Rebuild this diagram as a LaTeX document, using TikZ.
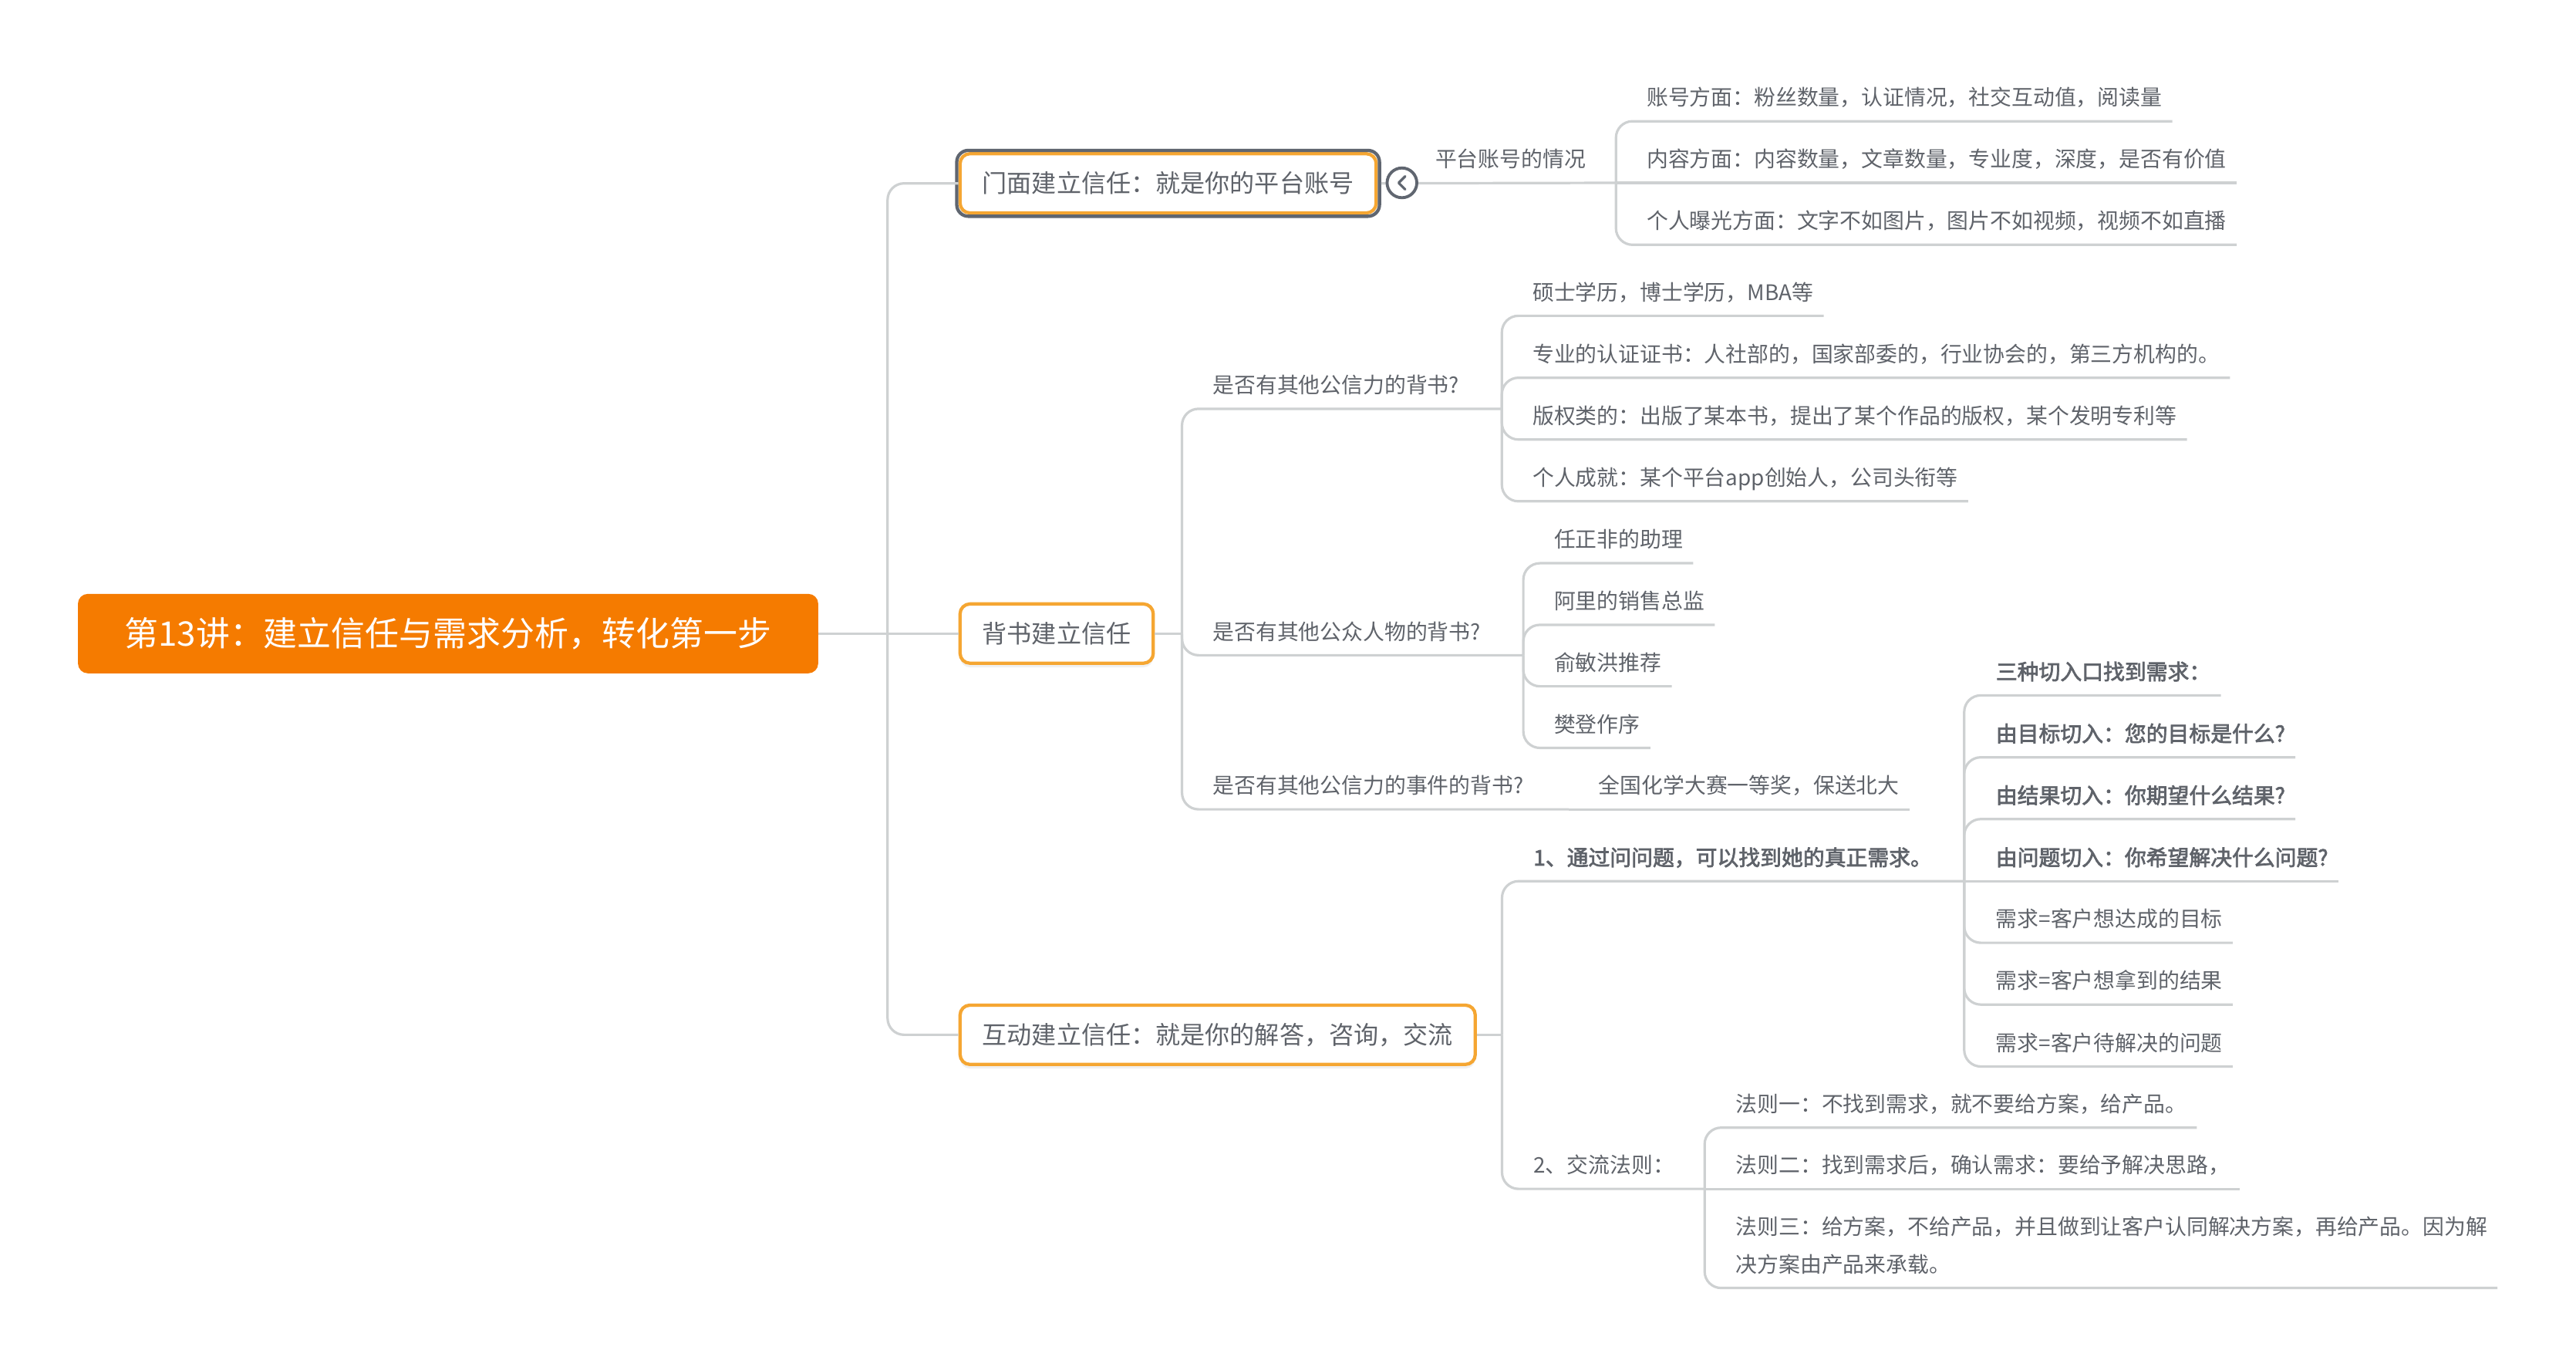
\documentclass[tikz,border=0pt]{standalone}
\usepackage{fontspec}
\setmainfont{Noto Sans CJK SC}
\newfontfamily\boldcjk[FakeBold=2.6]{Noto Sans CJK SC}
\usetikzlibrary{shadows}
\definecolor{rootorange}{RGB}{245,123,0}
\definecolor{boxorange}{RGB}{245,166,50}
\definecolor{selgray}{RGB}{96,102,112}
\definecolor{linkgray}{RGB}{206,209,210}
\definecolor{txtgray}{RGB}{95,99,106}
\begin{document}
\begin{tikzpicture}[x=1pt,y=-1pt,
  link/.style={draw=linkgray,line width=1.5pt,rounded corners=10pt},
  root/.style={fill=rootorange,rounded corners=6pt,minimum width=448.3pt,minimum height=48.1pt,inner sep=0pt,text=white,font=\fontsize{20.5}{24}\selectfont},
  topic/.style={draw=boxorange,line width=2pt,fill=white,rounded corners=6pt,anchor=west,minimum height=35.9pt,inner xsep=13.5pt,inner ysep=0pt,text=txtgray,font=\fontsize{15}{18}\selectfont,drop shadow={shadow xshift=0pt,shadow yshift=-2.5pt,opacity=0.12}},
  leaf/.style={anchor=south west,inner sep=0pt,text depth=9.3pt,text=txtgray,font=\fontsize{13}{22.6}\selectfont},
  bold/.style={font=\fontsize{13}{22.6}\selectfont\boldcjk}]
 \path[use as bounding box] (0,0) rectangle (1560,827.6);
 \node [root] (root) at (271.35,383.6) {第13讲：建立信任与需求分析，转化第一步};
 \node [topic] (b1) at (580.4,111) {门面建立信任：就是你的平台账号};
 \node [topic] (b2) at (580.4,383.6) {背书建立信任};
 \node [topic] (b3) at (580.4,626.5) {互动建立信任：就是你的解答，咨询，交流};
 \draw [selgray,line width=2pt,rounded corners=7pt] ([shift={(-1pt,1pt)}]b1.north west) rectangle ([shift={(1pt,-1pt)}]b1.south east);
 \coordinate (t) at (537.5,383.6);
 \coordinate (c1) at (978.6,110.7);
 \coordinate (c2) at (715.8,383.6);
 \coordinate (c21) at (909.5,247.5);
 \coordinate (c22) at (922.5,396.7);
 \coordinate (c23) at (950,490);
 \coordinate (c3) at (909.6,626.5);
 \coordinate (c31) at (1189.5,533.5);
 \coordinate (c32) at (1032.3,719.8);
 \node [leaf] (p1) at (869,110.7) {平台账号的情况};
 \node [leaf] (a1) at (997.1,73.4) {账号方面：粉丝数量，认证情况，社交互动值，阅读量};
 \node [leaf] (a2) at (997.1,110.7) {内容方面：内容数量，文章数量，专业度，深度，是否有价值};
 \node [leaf] (a3) at (997.1,148.2) {个人曝光方面：文字不如图片，图片不如视频，视频不如直播};
 \node [leaf] (q1) at (734.3,247.5) {是否有其他公信力的背书?};
 \node [leaf] (q11) at (928,191.2) {硕士学历，博士学历，MBA等};
 \node [leaf] (q12) at (928,228.7) {专业的认证证书：人社部的，国家部委的，行业协会的，第三方机构的。};
 \node [leaf] (q13) at (928,266.1) {版权类的：出版了某本书，提出了某个作品的版权，某个发明专利等};
 \node [leaf] (q14) at (928,303.5) {个人成就：某个平台app创始人，公司头衔等};
 \node [leaf] (q2) at (734.3,396.7) {是否有其他公众人物的背书?};
 \node [leaf] (q21) at (941,341) {任正非的助理};
 \node [leaf] (q22) at (941,378.3) {阿里的销售总监};
 \node [leaf] (q23) at (941,415.5) {俞敏洪推荐};
 \node [leaf] (q24) at (941,452.8) {樊登作序};
 \node [leaf] (q3) at (734.3,490) {是否有其他公信力的事件的背书?};
 \node [leaf] (q31) at (968,490) {全国化学大赛一等奖，保送北大};
 \node [leaf,bold] (r1) at (928.5,533.5) {1、通过问问题，可以找到她的真正需求。};
 \node [leaf,bold] (r11) at (1208.5,421) {三种切入口找到需求：};
 \node [leaf,bold] (r12) at (1208.5,458.5) {由目标切入：您的目标是什么?};
 \node [leaf,bold] (r13) at (1208.5,495.9) {由结果切入：你期望什么结果?};
 \node [leaf,bold] (r14) at (1208.5,533.5) {由问题切入：你希望解决什么问题?};
 \node [leaf] (r15) at (1208.5,570.8) {需求=客户想达成的目标};
 \node [leaf] (r16) at (1208.5,608.2) {需求=客户想拿到的结果};
 \node [leaf] (r17) at (1208.5,645.7) {需求=客户待解决的问题};
 \node [leaf] (r2) at (928.5,719.8) {2、交流法则：};
 \node [leaf] (r21) at (1051,682.7) {法则一：不找到需求，就不要给方案，给产品。};
 \node [leaf] (r22) at (1051,719.8) {法则二：找到需求后，确认需求：要给予解决思路，};
 \node [leaf,align=left] (r23) at (1051,779.8) {法则三：给方案，不给产品，并且做到让客户认同解决方案，再给产品。因为解\\决方案由产品来承载。};
 \draw [link] (root.east) -- (b2.west);
 \draw [link] (t) |- (b1.west);
 \draw [link] (t) |- (b3.west);
 \draw [link] ([xshift=2pt]b1.east) -- (c1);
 \draw [link] (c1) |- ([xshift=6pt]a1.south east);
 \draw [link] (c1) -- ([xshift=6pt]a2.south east);
 \draw [link] (c1) |- ([xshift=6pt]a3.south east);
 \draw [link] (b2.east) -- (c2);
 \draw [link] (c2) |- (c21);
 \draw [link] (c2) |- (c22);
 \draw [link] (c2) |- (c23);
 \draw [link] (c21) |- ([xshift=6pt]q11.south east);
 \draw [link] (c21) |- ([xshift=6pt]q12.south east);
 \draw [link] (c21) |- ([xshift=6pt]q13.south east);
 \draw [link] (c21) |- ([xshift=6pt]q14.south east);
 \draw [link] (c22) |- ([xshift=6pt]q21.south east);
 \draw [link] (c22) |- ([xshift=6pt]q22.south east);
 \draw [link] (c22) |- ([xshift=6pt]q23.south east);
 \draw [link] (c22) |- ([xshift=6pt]q24.south east);
 \draw [link] (c23) -- ([xshift=6pt]q31.south east);
 \draw [link] (b3.east) -- (c3);
 \draw [link] (c3) |- (c31);
 \draw [link] (c3) |- (c32);
 \draw [link] (c31) |- ([xshift=6pt]r11.south east);
 \draw [link] (c31) |- ([xshift=6pt]r12.south east);
 \draw [link] (c31) |- ([xshift=6pt]r13.south east);
 \draw [link] (c31) -- ([xshift=6pt]r14.south east);
 \draw [link] (c31) |- ([xshift=6pt]r15.south east);
 \draw [link] (c31) |- ([xshift=6pt]r16.south east);
 \draw [link] (c31) |- ([xshift=6pt]r17.south east);
 \draw [link] (c32) |- ([xshift=6pt]r21.south east);
 \draw [link] (c32) -- ([xshift=6pt]r22.south east);
 \draw [link] (c32) |- ([xshift=6pt]r23.south east);
 \node [draw=selgray,line width=1.8pt,fill=white,circle,minimum size=18pt,inner sep=0pt] (fold) at (849,110.7) {};
 \draw [selgray,line width=1.5pt,line cap=round,line join=round] ([shift={(2pt,4pt)}]fold.center) -- ([shift={(-2pt,0pt)}]fold.center) -- ([shift={(2pt,-4pt)}]fold.center);
\end{tikzpicture}
\end{document}
